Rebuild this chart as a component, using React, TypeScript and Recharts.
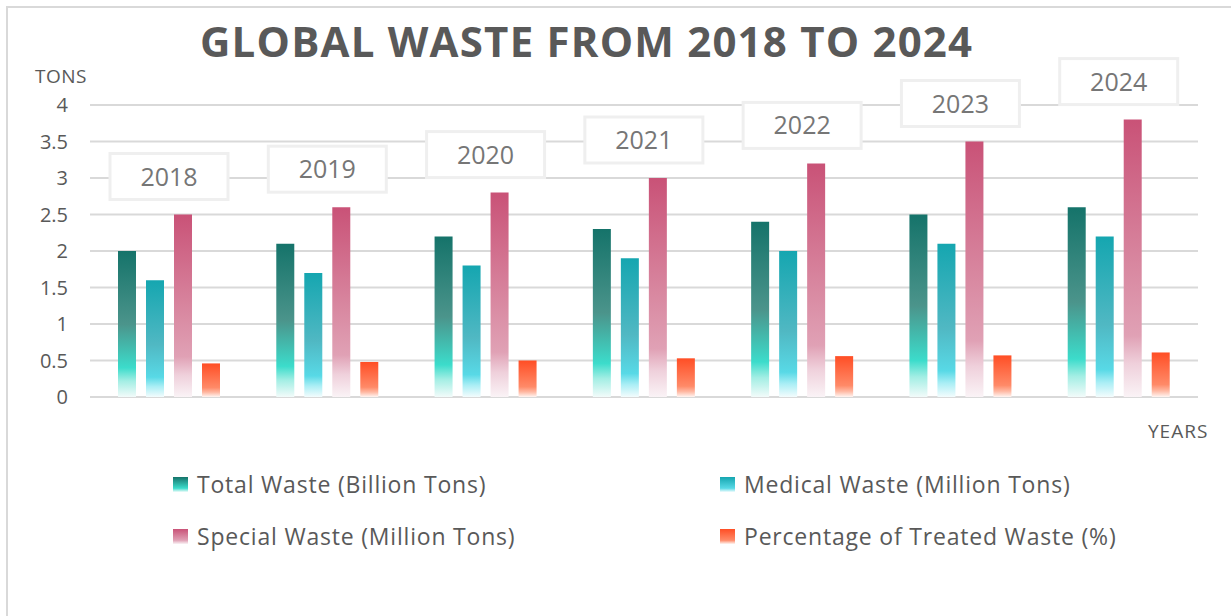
import { Bar, BarChart, CartesianGrid, XAxis, YAxis } from "recharts";

const years = ["2018", "2019", "2020", "2021", "2022", "2023", "2024"];
const totalWaste = [2.0, 2.1, 2.2, 2.3, 2.4, 2.5, 2.6];
const medicalWaste = [1.6, 1.7, 1.8, 1.9, 2.0, 2.1, 2.2];
const specialWaste = [2.5, 2.6, 2.8, 3.0, 3.2, 3.5, 3.8];
const treatedShare = [0.46, 0.48, 0.5, 0.53, 0.56, 0.57, 0.61];
const yTicks = [0, 0.5, 1, 1.5, 2, 2.5, 3, 3.5, 4];

const seriesNames = [
  "Total Waste (Billion Tons)",
  "Medical Waste (Million Tons)",
  "Special Waste (Million Tons)",
  "Percentage of Treated Waste (%)",
];

const data = years.map((year, i) => ({
  year,
  total: totalWaste[i],
  medical: medicalWaste[i],
  special: specialWaste[i],
  treated: treatedShare[i],
}));

const FONT = "'Open Sans', 'Noto Sans', sans-serif";
const BAR = 18;
const GAP = 10;

// gradient stops per series, top of bar -> bottom of bar
const gradients: Record<string, [number, string][]> = {
  gTotal: [
    [0, "#15736a"],
    [0.5, "#4b948b"],
    [0.8, "#3cdccb"],
    [0.89, "#a3eee4"],
    [1, "#f2fbfa"],
  ],
  gMedical: [
    [0, "#15a6b0"],
    [0.55, "#50b8c3"],
    [0.83, "#58d9e6"],
    [0.91, "#aaeef5"],
    [1, "#f3fcfd"],
  ],
  gSpecial: [
    [0, "#c95277"],
    [0.55, "#d98aa2"],
    [0.78, "#e0a1b5"],
    [0.88, "#efd0db"],
    [1, "#faf3f6"],
  ],
  gTreated: [
    [0, "#ff4e25"],
    [0.72, "#ff8a68"],
    [0.86, "#ffb8a2"],
    [1, "#fff5f2"],
  ],
};

const legendSwatch = [
  "linear-gradient(#15736a, #3cdccb 75%, #f2fbfa)",
  "linear-gradient(#15a6b0, #58d9e6 75%, #f3fcfd)",
  "linear-gradient(#c95277, #e0a1b5 75%, #faf3f6)",
  "linear-gradient(#ff4e25, #ff8a68 75%, #fff5f2)",
];

function YTick({ y, payload }: any) {
  return (
    <text x={68} y={y} dy={7} textAnchor="end" fontSize={20} fill="#595959" fontFamily={FONT}>
      {payload.value}
    </text>
  );
}

// year box sits over the whole group, so shift from the special bar (3rd of 4) to the group centre
function YearBox({ x, y, width, index }: any) {
  const cx = x + width / 2 - (width + GAP) / 2;
  const cy = y - 38;
  return (
    <g>
      <rect x={cx - 59} y={cy - 23} width={118} height={46} fill="#fff" stroke="#efefef" strokeWidth={3} />
      <text x={cx} y={cy} dy={9} textAnchor="middle" fontSize={25} fill="#767676" fontFamily={FONT}>
        {years[index]}
      </text>
    </g>
  );
}

export default function App() {
  return (
    <div style={{ position: "absolute", left: 0, top: 0, width: 1231, height: 616, overflow: "hidden", background: "#fff" }}>
      <div
        style={{
          position: "absolute",
          left: 6,
          top: 6,
          width: 1300,
          height: 700,
          border: "2px solid #d9d9d9",
        }}
      />
      <div
        style={{
          position: "absolute",
          left: 200,
          top: 12,
          fontFamily: FONT,
          fontWeight: 700,
          fontSize: 42,
          color: "#595959",
          whiteSpace: "nowrap",
          letterSpacing: 1.2,
        }}
      >
        GLOBAL WASTE FROM 2018 TO 2024
      </div>
      <div style={{ position: "absolute", left: 35, top: 63, fontFamily: FONT, fontSize: 19, color: "#595959", letterSpacing: 0.5 }}>
        TONS
      </div>
      <div style={{ position: "absolute", left: 1148, top: 418, fontFamily: FONT, fontSize: 19, color: "#595959", letterSpacing: 1 }}>
        YEARS
      </div>
      <div style={{ position: "absolute", left: 0, top: 0 }}>
        <BarChart
          width={1231}
          height={616}
          data={data}
          margin={{ top: 105, right: 33, bottom: 219, left: 0 }}
          barSize={BAR}
          barGap={GAP}
        >
          <defs>
            {Object.entries(gradients).map(([id, stops]) => (
              <linearGradient key={id} id={id} x1="0" y1="0" x2="0" y2="1">
                {stops.map(([o, c]) => (
                  <stop key={o} offset={o} stopColor={c} />
                ))}
              </linearGradient>
            ))}
          </defs>
          <CartesianGrid vertical={false} stroke="#d9d9d9" strokeWidth={2} />
          <XAxis dataKey="year" hide />
          <YAxis
            width={90}
            domain={[0, 4]}
            ticks={yTicks}
            axisLine={false}
            tickLine={false}
            tick={<YTick />}
          />
          <Bar dataKey="total" name={seriesNames[0]} fill="url(#gTotal)" isAnimationActive={false} />
          <Bar dataKey="medical" name={seriesNames[1]} fill="url(#gMedical)" isAnimationActive={false} />
          <Bar
            dataKey="special"
            name={seriesNames[2]}
            fill="url(#gSpecial)"
            isAnimationActive={false}
            label={<YearBox />}
          />
          <Bar dataKey="treated" name={seriesNames[3]} fill="url(#gTreated)" isAnimationActive={false} />
        </BarChart>
      </div>
      {seriesNames.map((name, i) => {
        const col = i === 0 || i === 2 ? 0 : 1;
        const row = i < 2 ? 0 : 1;
        return (
          <div
            key={name}
            style={{
              position: "absolute",
              left: col === 0 ? 173 : 720,
              top: row === 0 ? 468 : 520,
              display: "flex",
              alignItems: "center",
              fontFamily: FONT,
              fontSize: 23,
              letterSpacing: 0.8,
              color: "#595959",
              whiteSpace: "nowrap",
            }}
          >
            <span style={{ display: "inline-block", width: 15, height: 15, background: legendSwatch[i], marginRight: 9 }} />
            {name}
          </div>
        );
      })}
    </div>
  );
}
